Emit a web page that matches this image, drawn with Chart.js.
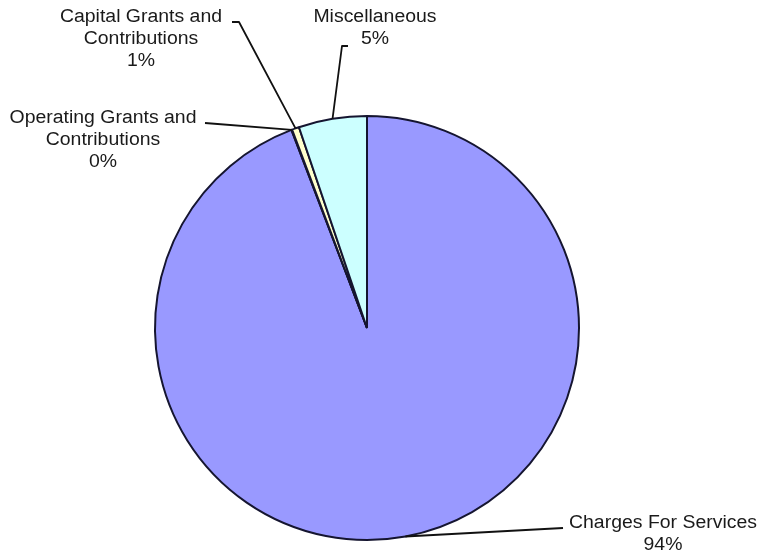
<!DOCTYPE html>
<html>
<head>
<meta charset="utf-8">
<title>Revenue Sources</title>
<script src="https://cdn.jsdelivr.net/npm/chart.js@4.4.1/dist/chart.umd.min.js"></script>
<style>
    html, body { margin: 0; padding: 0; background: #ffffff; }
    #wrap { width: 761px; height: 555px; }
</style>
</head>
<body>
<div id="wrap"><canvas id="revenuePie" width="761" height="555"></canvas></div>
<script>
// Revenue shares by source (percent of total)
const categories = [
    ['Charges For Services'],
    ['Operating Grants and', 'Contributions'],
    ['Capital Grants and', 'Contributions'],
    ['Miscellaneous']
];
const shares = [94.2, 0.05, 0.55, 5.2];
const sliceColors = ['#9999FF', '#993366', '#FFFFCC', '#CCFFFF'];

// where each label sits and the bend of its leader line
const labelSpots = [
    { x: 663, y: 523, path: [[563, 528]] },
    { x: 103, y: 118, path: [[205, 123]] },
    { x: 141, y: 17, path: [[239, 22], [232, 22]] },
    { x: 375, y: 17, path: [[342, 46], [348, 46]] }
];

const total = shares.reduce((a, b) => a + b, 0);

const leaderLabels = {
    id: 'leaderLabels',
    afterDatasetsDraw(chart) {
        const c = chart.ctx;
        const arcs = chart.getDatasetMeta(0).data;
        c.save();
        c.strokeStyle = '#111';
        c.lineWidth = 1.8;
        c.lineJoin = 'round';
        arcs.forEach((arc, i) => {
            const spot = labelSpots[i];
            const p = arc.getProps(['x', 'y', 'startAngle', 'endAngle', 'outerRadius'], true);
            const mid = (p.startAngle + p.endAngle) / 2;
            c.beginPath();
            c.moveTo(p.x + Math.cos(mid) * p.outerRadius, p.y + Math.sin(mid) * p.outerRadius);
            spot.path.forEach(pt => c.lineTo(pt[0], pt[1]));
            c.stroke();

            const lines = categories[i].concat([Math.round(shares[i] / total * 100) + '%']);
            c.fillStyle = '#1a1a1a';
            c.font = '18px "Liberation Sans", Arial, sans-serif';
            c.textAlign = 'center';
            c.textBaseline = 'middle';
            lines.forEach((line, k) => {
                c.save();
                c.translate(spot.x, spot.y + k * 22);
                c.scale(1.08, 1);
                c.fillText(line, 0, 0);
                c.restore();
            });
        });
        c.restore();
    }
};

const ctx = document.getElementById('revenuePie').getContext('2d');
new Chart(ctx, {
    type: 'pie',
    data: {
        labels: categories,
        datasets: [{
            data: shares,
            backgroundColor: sliceColors,
            borderColor: '#151530',
            borderWidth: 2
        }]
    },
    options: {
        responsive: false,
        animation: false,
        layout: { padding: { left: 0, right: 27, top: 115, bottom: 14 } },
        plugins: {
            legend: { display: false },
            tooltip: { enabled: false }
        }
    },
    plugins: [leaderLabels]
});
</script>
</body>
</html>
